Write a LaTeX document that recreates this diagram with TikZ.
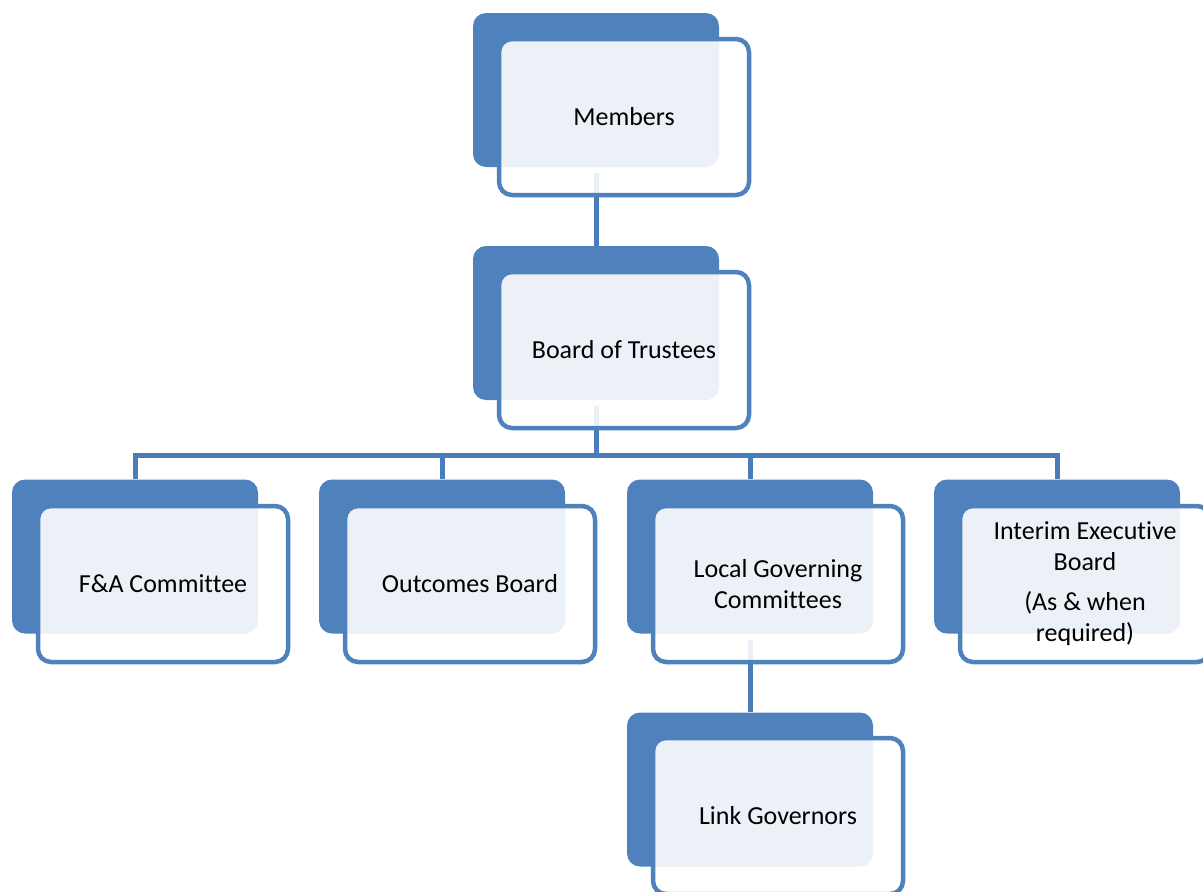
\documentclass[tikz,border=0pt]{standalone}
\usepackage{fontspec}
\setmainfont{Carlito}[Ligatures=NoCommon]
\definecolor{boxblue}{RGB}{79,129,189}
\definecolor{lineblue}{RGB}{74,124,186}

\begin{document}
\begin{tikzpicture}[x=1pt,y=-1pt]
    \tikzset{%
      backbox/.style={rectangle, rounded corners=13pt, fill=boxblue,
        inner sep=0pt, minimum width=246pt, minimum height=154pt},
      frontbox/.style={rectangle, rounded corners=13pt, draw=boxblue,
        line width=4.5pt, fill=white, fill opacity=0.89, text opacity=1,
        inner sep=0pt, minimum width=250pt, minimum height=156pt,
        align=center, font=\fontsize{26}{31}\selectfont},
      link/.style={lineblue, line width=5pt},
    }
    \useasboundingbox (0,0) rectangle (1203,892);

    % back boxes
    \node[backbox] (membersB) at (596,90) {};
    \node[backbox] (boardB) at (596,323) {};
    \node[backbox] (faB) at (135,556.5) {};
    \node[backbox] (outcomesB) at (442,556.5) {};
    \node[backbox] (lgcB) at (750,556.5) {};
    \node[backbox] (iebB) at (1057,556.5) {};
    \node[backbox] (linkB) at (750,789.5) {};

    % connectors
    \coordinate (bus) at (596,455);
    \draw [link] ([yshift=-6pt]membersB.south) -- (boardB.north);
    \draw [link] ([yshift=-6pt]boardB.south) -- (bus);
    \draw [link] (bus) -| (faB.north);
    \draw [link] (bus) -| (outcomesB.north);
    \draw [link] (bus) -| (lgcB.north);
    \draw [link] (bus) -| (iebB.north);
    \draw [link] ([yshift=-6pt]lgcB.south) -- (linkB.north);

    % front boxes
    \node[frontbox] (members) at (624,117) {Members};
    \node[frontbox] (board) at (624,350) {Board of Trustees};
    \node[frontbox] (fa) at (163,584) {F\&A Committee};
    \node[frontbox] (outcomes) at (470,584) {Outcomes Board};
    \node[frontbox] (lgc) at (778,584) {Local Governing\\Committees};
    \node[frontbox] (ieb) at (1085,584)
      {Interim Executive\\Board\\[9pt](As \& when\\required)};
    \node[frontbox] (link) at (778,816) {Link Governors};
  \end{tikzpicture}
\end{document}
